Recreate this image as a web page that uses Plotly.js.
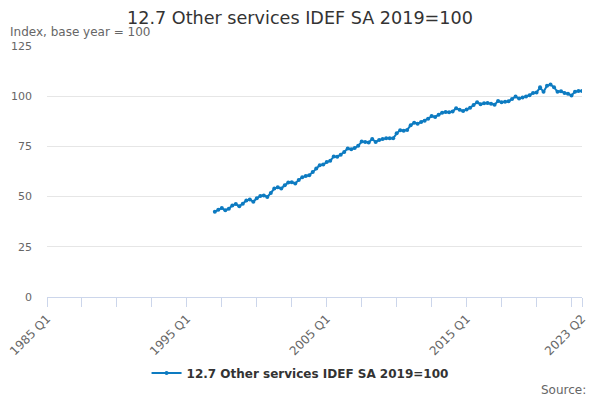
<!DOCTYPE html>
<html>
<head>
<meta charset="utf-8">
<script src="https://cdn.plot.ly/plotly-3.0.1.min.js"></script>
<style>
  html, body { margin: 0; padding: 0; background: #fff; }
  #chart { width: 600px; height: 400px; }
</style>
</head>
<body>
<div id="chart"></div>
<script>
    // --- DATA ---
    const firstYear = 1985;
    const lastYear = 2023;
    const lastQuarter = 2;
    const seriesStart = '1997 Q1';
    const seriesName = '12.7 Other services IDEF SA 2019=100';

    // index values, 1997 Q1 .. 2023 Q2
    const indexValues = [
        42.5, 43.5, 44.3, 43.2, 44.0, 45.6, 46.3, 45.2, 46.5, 48.0,
        48.6, 47.4, 49.2, 50.3, 50.6, 49.8, 51.8, 54.0, 54.6, 54.0,
        55.6, 57.0, 57.2, 56.5, 58.3, 59.6, 60.3, 60.6, 62.2, 64.0,
        65.6, 66.0, 67.2, 67.8, 70.0, 69.8, 70.8, 72.2, 74.0, 73.6,
        74.2, 75.3, 77.4, 77.2, 77.0, 78.7, 77.2, 78.2, 78.7, 79.0,
        79.1, 79.0, 81.5, 83.0, 82.8, 83.2, 85.5, 86.8, 86.3, 87.2,
        87.8, 88.8, 90.1, 89.6, 90.8, 91.8, 92.1, 92.0, 92.4, 94.0,
        93.2, 92.6, 93.4, 94.2, 95.6, 97.0, 96.0, 96.5, 96.6, 96.3,
        95.8, 97.6, 97.0, 97.2, 97.5, 98.6, 99.8, 98.8, 99.3, 99.8,
        100.5, 101.6, 101.8, 104.4, 102.2, 105.2, 105.8, 104.4, 102.2, 102.5,
        101.6, 101.2, 100.4, 102.2, 102.6, 102.6
    ];

    const yTicks = [0, 25, 50, 75, 100, 125];
    const labelledTicks = ['1985 Q1', '1995 Q1', '2005 Q1', '2015 Q1', '2023 Q2'];

    // --- quarter categories ---
    const quarters = [];
    for (let y = firstYear; y <= lastYear; y++) {
        for (let q = 1; q <= 4; q++) {
            if (y === lastYear && q > lastQuarter) break;
            quarters.push(y + ' Q' + q);
        }
    }
    const startIdx = quarters.indexOf(seriesStart);
    const xValues = quarters.slice(startIdx, startIdx + indexValues.length);

    // tick marks every 10 quarters plus the last one
    const tickVals = quarters.filter((q, i) => i % 10 === 0);
    tickVals.push(quarters[quarters.length - 1]);
    const tickText = tickVals.map(q => labelledTicks.includes(q) ? q : '');

    const FONT = 'DejaVu Sans, Verdana, sans-serif';
    const LINE_BLUE = '#0d7bc1';

    const trace = {
        type: 'scatter',
        mode: 'lines+markers',
        name: seriesName,
        x: xValues,
        y: indexValues,
        line: { color: LINE_BLUE, width: 2 },
        marker: { color: LINE_BLUE, size: 4, symbol: 'circle' }
    };

    const layout = {
        width: 600,
        height: 400,
        autosize: false,
        margin: { l: 47, r: 18, t: 46, b: 103, autoexpand: false },
        paper_bgcolor: '#fff',
        plot_bgcolor: '#fff',
        font: { family: FONT, color: '#666' },
        title: {
            text: '12.7 Other services IDEF SA 2019=100',
            font: { family: FONT, size: 17.6, color: '#333' },
            x: 0.5, xanchor: 'center',
            yref: 'container', y: 0.955, yanchor: 'middle'
        },
        xaxis: {
            type: 'category',
            categoryorder: 'array',
            categoryarray: quarters,
            range: [0, quarters.length - 1],
            tickmode: 'array',
            tickvals: tickVals,
            ticktext: tickText,
            tickangle: -45,
            ticks: 'outside',
            ticklen: 9,
            tickcolor: '#ccd6eb',
            showline: true,
            linecolor: '#ccd6eb',
            linewidth: 1,
            showgrid: false,
            zeroline: false,
            tickfont: { family: FONT, size: 12, color: '#666' },
            fixedrange: true
        },
        yaxis: {
            range: [0, 125],
            tickmode: 'array',
            tickvals: yTicks,
            showgrid: true,
            gridcolor: '#e6e6e6',
            zeroline: false,
            showline: false,
            ticks: '',
            ticklabelstandoff: 14,
            tickfont: { family: FONT, size: 11, color: '#666' },
            fixedrange: true
        },
        showlegend: true,
        legend: {
            orientation: 'h',
            x: 0.473, xanchor: 'center',
            y: -0.303, yanchor: 'middle',
            itemwidth: 30,
            font: { family: FONT, size: 12, color: '#333', weight: 'bold' }
        },
        annotations: [
            {
                text: 'Index, base year = 100',
                xref: 'paper', yref: 'paper',
                x: -0.072, xanchor: 'left',
                y: 1.056, yanchor: 'middle',
                showarrow: false,
                font: { family: FONT, size: 12, color: '#666' }
            },
            {
                text: 'Source:',
                xref: 'paper', yref: 'paper',
                x: 1.011, xanchor: 'right',
                y: -0.37, yanchor: 'middle',
                showarrow: false,
                font: { family: FONT, size: 12, color: '#666' }
            }
        ]
    };

    Plotly.newPlot('chart', [trace], layout, { displayModeBar: false, staticPlot: true });
</script>
</body>
</html>
